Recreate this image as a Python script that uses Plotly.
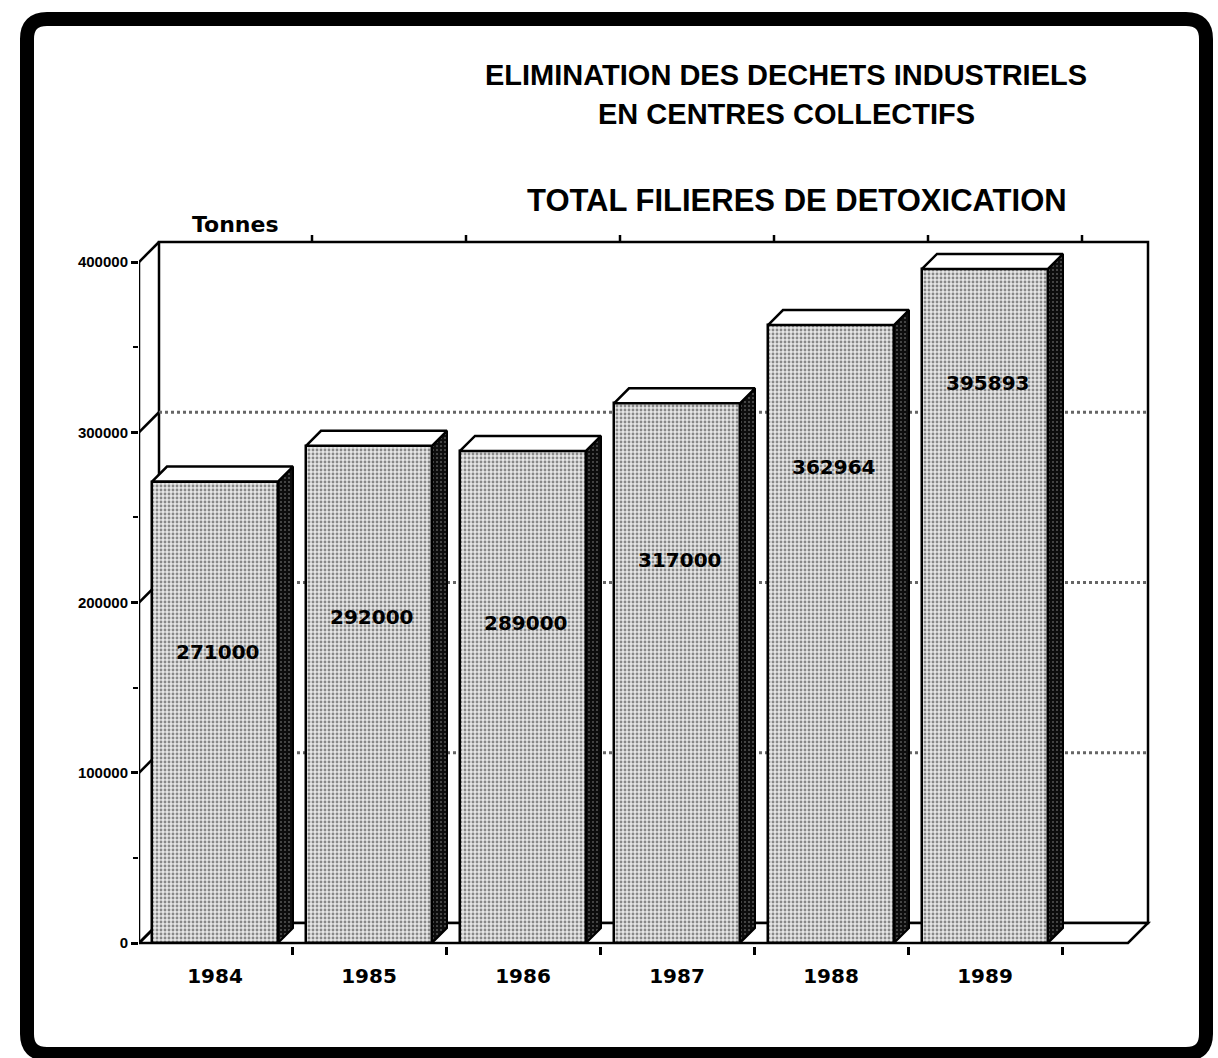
import plotly.graph_objects as go

# ---------------- data ----------------
years = ["1984", "1985", "1986", "1987", "1988", "1989"]
tonnes = [271000, 292000, 289000, 317000, 362964, 395893]
value_labels = ["271000", "292000", "289000", "317000", "362964", "395893"]
y_ticks = [0, 100000, 200000, 300000, 400000]
y_tick_labels = ["0", "100000", "200000", "300000", "400000"]

# ---------------- layout geometry (pixels) ----------------
W, H = 1218, 1058
L, R, T, B = 139, 1160, 232, 946          # plot area in px
CAT0_PX, CAT_STEP = 215, 154              # pixel of first category centre, spacing
ZERO_PX, TOP_PX = 943, 262                # pixel of 0 and 400000
PX_PER_UNIT = (ZERO_PX - TOP_PX) / 400000.0

x0 = (L - CAT0_PX) / CAT_STEP
x1 = (R - CAT0_PX) / CAT_STEP
y0 = (ZERO_PX - B) / PX_PER_UNIT
y1 = (ZERO_PX - T) / PX_PER_UNIT

def dxp(p):  # pixel -> x data length
    return p / CAT_STEP

def dyp(p):  # pixel -> y data length
    return p / PX_PER_UNIT

X_END = (1128 - CAT0_PX) / CAT_STEP       # right end of floor (front)
YMAX = 400000
WALL_DX, WALL_DY = dxp(20), dyp(20)
BAR_DX, BAR_DY = dxp(15), dyp(15)
BAR_W = 126 / CAT_STEP
label_level = [171000, 191500, 188000, 225000, 279500, 329000]

def px2paper_x(px):
    return (px - L) / (R - L)

def px2paper_y(py):
    return (B - py) / (B - T)

fig = go.Figure()

# front faces of the bars
fig.add_trace(go.Bar(
    x=list(range(len(years))), y=tonnes, width=BAR_W,
    marker=dict(color="#d8d8d8",
                line=dict(color="black", width=2.5),
                pattern=dict(shape=".", fgcolor="#2a2a2a", bgcolor="#e6e6e6",
                             size=4, solidity=0.4)),
    hoverinfo="skip", showlegend=False,
))

# side and top faces (computed from values)
for i, v in enumerate(tonnes):
    xr = i + BAR_W / 2
    xl = i - BAR_W / 2
    fig.add_trace(go.Scatter(
        x=[xr, xr + BAR_DX, xr + BAR_DX, xr, xr],
        y=[0, BAR_DY, v + BAR_DY, v, 0],
        mode="lines", fill="toself", fillcolor="#111111",
        fillpattern=dict(shape=".", fgcolor="#a0a0a0", bgcolor="#0d0d0d",
                         size=4, solidity=0.2),
        line=dict(color="black", width=2),
        hoverinfo="skip", showlegend=False))
    fig.add_trace(go.Scatter(
        x=[xl, xl + BAR_DX, xr + BAR_DX, xr, xl],
        y=[v, v + BAR_DY, v + BAR_DY, v, v],
        mode="lines", fill="toself", fillcolor="white",
        line=dict(color="black", width=2.5),
        hoverinfo="skip", showlegend=False))

# value labels inside the bars
for i, (lab, lv) in enumerate(zip(value_labels, label_level)):
    fig.add_annotation(x=i + 0.02, y=lv, text=lab, showarrow=False,
                       font=dict(family="DejaVu Sans", size=20, color="black",
                                 weight="bold"))

shapes = []
LW = 2.5
# back wall
shapes.append(dict(type="path", layer="below", xref="x", yref="y",
                   path=f"M {x0+WALL_DX},{WALL_DY} L {x0+WALL_DX},{YMAX+WALL_DY} "
                        f"L {X_END+WALL_DX},{YMAX+WALL_DY} L {X_END+WALL_DX},{WALL_DY} Z",
                   fillcolor="white", line=dict(color="black", width=LW)))
# gridlines on back wall
for v in y_ticks[1:-1]:
    shapes.append(dict(type="line", layer="below", xref="x", yref="y",
                       x0=x0 + WALL_DX, x1=X_END + WALL_DX, y0=v + WALL_DY, y1=v + WALL_DY,
                       line=dict(color="#666666", width=3, dash="dot")))
# floor
shapes.append(dict(type="path", layer="below", xref="x", yref="y",
                   path=f"M {x0},0 L {X_END},0 L {X_END+WALL_DX},{WALL_DY} L {x0+WALL_DX},{WALL_DY} Z",
                   fillcolor="white", line=dict(color="black", width=LW)))
# left wall: front vertical line and diagonal connectors
shapes.append(dict(type="line", layer="below", xref="x", yref="y",
                   x0=x0, x1=x0, y0=0, y1=YMAX, line=dict(color="black", width=LW)))
for v in y_ticks:
    shapes.append(dict(type="line", layer="below", xref="x", yref="y",
                       x0=x0, x1=x0 + WALL_DX, y0=v, y1=v + WALL_DY,
                       line=dict(color="black", width=LW)))
# ticks on top edge of back wall
for i in range(len(years)):
    xb = i + 0.5 + WALL_DX
    shapes.append(dict(type="line", layer="below", xref="x", yref="y",
                       x0=xb, x1=xb, y0=YMAX + WALL_DY, y1=YMAX + WALL_DY + dyp(7),
                       line=dict(color="black", width=LW)))

# outer rounded frame
fl, fr, ft, fb, rad = 27, 1206, 19, 1054, 20
def P(px, py):
    return f"{px2paper_x(px)},{px2paper_y(py)}"
frame_path = (f"M {P(fl+rad, ft)} L {P(fr-rad, ft)} Q {P(fr, ft)} {P(fr, ft+rad)} "
              f"L {P(fr, fb-rad)} Q {P(fr, fb)} {P(fr-rad, fb)} "
              f"L {P(fl+rad, fb)} Q {P(fl, fb)} {P(fl, fb-rad)} "
              f"L {P(fl, ft+rad)} Q {P(fl, ft)} {P(fl+rad, ft)} Z")
shapes.append(dict(type="path", xref="paper", yref="paper", path=frame_path,
                   line=dict(color="black", width=14), layer="above"))

# titles
title_font = dict(family="Liberation Sans", size=29, color="black", weight="bold")
fig.add_annotation(xref="paper", yref="paper", x=px2paper_x(786), y=px2paper_y(75),
                   text="ELIMINATION DES DECHETS INDUSTRIELS", showarrow=False,
                   font=title_font, xanchor="center", yanchor="middle")
fig.add_annotation(xref="paper", yref="paper", x=px2paper_x(786), y=px2paper_y(114),
                   text="EN CENTRES COLLECTIFS", showarrow=False,
                   font=title_font, xanchor="center", yanchor="middle")
fig.add_annotation(xref="paper", yref="paper", x=px2paper_x(797), y=px2paper_y(201),
                   text="TOTAL FILIERES DE DETOXICATION", showarrow=False,
                   font=dict(family="Liberation Sans", size=31, color="black", weight="bold"),
                   xanchor="center", yanchor="middle")
fig.add_annotation(xref="paper", yref="paper", x=px2paper_x(235), y=px2paper_y(224),
                   text="Tonnes", showarrow=False,
                   font=dict(family="DejaVu Sans", size=22, color="black", weight="bold"),
                   xanchor="center", yanchor="middle")

fig.update_layout(
    width=W, height=H,
    margin=dict(l=L, r=W - R, t=T, b=H - B, pad=0),
    paper_bgcolor="white", plot_bgcolor="rgba(0,0,0,0)",
    shapes=shapes, showlegend=False, bargap=0,
    xaxis=dict(range=[x0, x1], showgrid=False, zeroline=False, showline=False,
               tickmode="array", tickvals=list(range(len(years))), ticktext=years,
               ticks="", ticklabelstandoff=16,
               tickfont=dict(family="DejaVu Sans", size=20, color="black", weight="bold"),
               minor=dict(tickmode="array",
                          tickvals=[i + 0.5 for i in range(len(years))],
                          ticks="outside", ticklen=8, tickwidth=2.5, tickcolor="black"),
               fixedrange=True),
    yaxis=dict(range=[y0, y1], showgrid=False, zeroline=False, showline=False,
               tickmode="array", tickvals=y_ticks, ticktext=y_tick_labels,
               ticks="outside", ticklen=7, tickwidth=2.5, tickcolor="black",
               tickfont=dict(family="Liberation Sans", size=15, color="black", weight="bold"),
               minor=dict(dtick=50000, tick0=0, ticks="outside", ticklen=5,
                          tickwidth=2, tickcolor="black"),
               fixedrange=True),
)

fig.write_html("out.html",
               config={"displayModeBar": False},
               post_script="document.body.style.margin='0';"
                           "document.body.style.overflow='hidden';")
